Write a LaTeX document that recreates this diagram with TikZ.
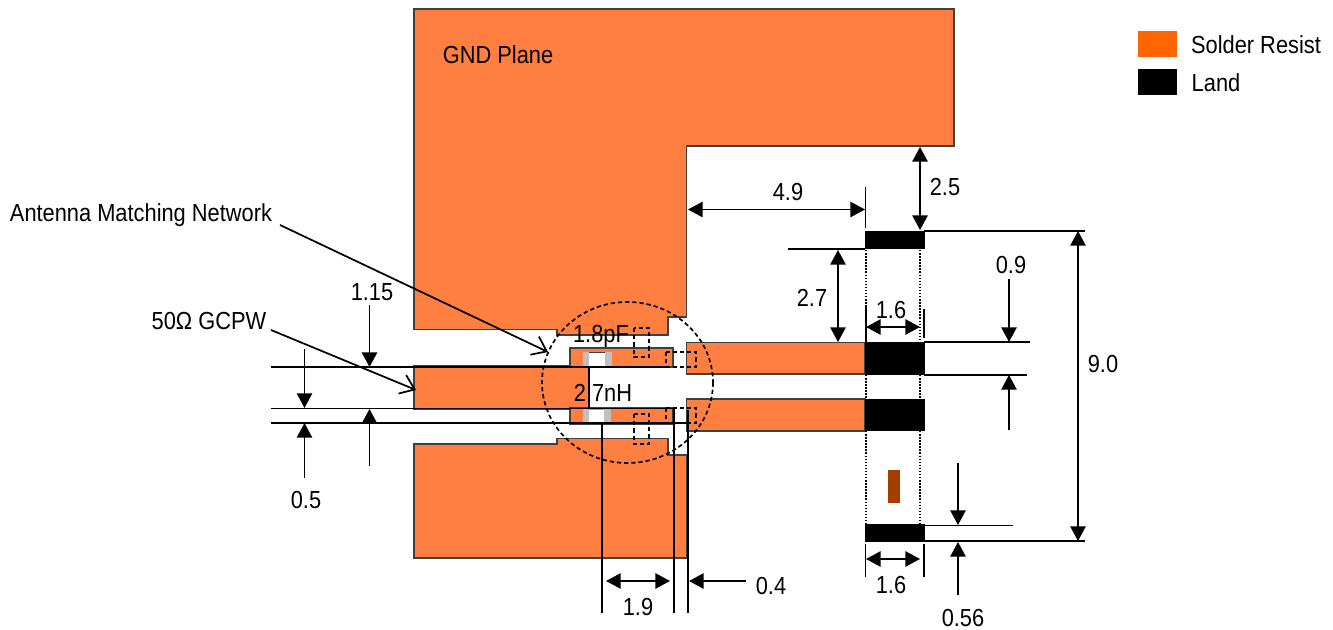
\documentclass[tikz,border=0pt]{standalone}
\usepackage{fontspec}
\setmainfont[FakeStretch=0.885]{Liberation Sans}
\usetikzlibrary{arrows.meta}
\definecolor{sr}{HTML}{FF7F40}
\definecolor{srleg}{HTML}{FF6600}
\definecolor{edge}{HTML}{404040}
\definecolor{brownpad}{HTML}{A33D00}
\definecolor{padgray}{HTML}{C0C0C0}
\tikzset{
  x=0.75pt,y=-0.75pt,
  copper/.style={fill=sr,draw=edge,line width=1pt},
  land/.style={fill=black},
  dashbox/.style={draw=black,line width=1.25pt,dash pattern=on 3.2pt off 2.2pt},
  dotline/.style={draw=black,line width=1.1pt,dash pattern=on 1.1pt off 1.2pt},
  rule/.style={draw=black,line width=1.3pt},
  dim/.style={draw=black,line width=1.3pt,{Triangle[length=11pt,width=11.5pt]}-{Triangle[length=11pt,width=11.5pt]}},
  dimend/.style={draw=black,line width=1.3pt,-{Triangle[length=11pt,width=11.5pt]}},
  callout/.style={draw=black,line width=1.3pt,-{Straight Barb[length=10pt,width=15pt,line width=1.3pt]}},
  lab/.style={inner sep=0pt,font=\fontsize{18.5pt}{21pt}\selectfont,text=black}
}
\begin{document}
\begin{tikzpicture}
\useasboundingbox (0,0) rectangle (1333,630);
% copper
\draw[copper] (414,9) -- (954,9) -- (954,146) -- (686.5,146) -- (686.5,317) -- (668,317) -- (668,335) -- (557,335) -- (557,329.5) -- (414,329.5) -- cycle;
\draw[copper] (414,444) -- (557,444) -- (557,438.5) -- (668,438.5) -- (668,455) -- (687,455) -- (687,558) -- (414,558) -- cycle;
\draw[copper] (414,366) -- (570,366) -- (570,348) -- (673,348) -- (673,367) -- (589,367) -- (589,409) -- (414,409) -- cycle;
\draw[copper] (570,408) rectangle (673,424);
\draw[copper] (686.5,342.5) rectangle (865,374);
\draw[copper] (686.5,399) rectangle (865,431);
% components
\fill[white] (589,352) rectangle (605,367);
\draw[edge,line width=0.7pt] (589,352) -- (605,352);
\fill[white] (589,409.5) rectangle (605,423);
\fill[padgray] (583,352) rectangle (589,367);
\fill[padgray] (605,352) rectangle (612,367);
\fill[padgray] (583,409) rectangle (589,423);
\fill[padgray] (604,409) rectangle (611,423);
% lands
\fill[land] (864.5,231) rectangle (924.5,249);
\fill[land] (864.5,342.5) rectangle (924.5,375);
\fill[land] (864.5,399) rectangle (924.5,431);
\fill[land] (864.5,524) rectangle (924.5,542);
\fill[brownpad] (888,470) rectangle (900,503);
% rules, left
\coordinate (l1a) at (271,367); \coordinate (l1b) at (414,367);
\coordinate (l2a) at (271,408.5); \coordinate (l2b) at (673,408.5);
\coordinate (l3a) at (271,423); \coordinate (l3b) at (688,423);
\draw[rule] (l1a) -- (l1b);
\draw[rule] (414,367) -- (589,367) -- (589,409);
\draw[rule] (l2a) -- (l2b);
\draw[rule] (l3a) -- (l3b);
\draw[rule] (589,367) -- (666,367);
\draw[rule] (602,423) -- (602,613);
\draw[rule] (674,408) -- (674,613);
\draw[rule] (688,410) -- (688,613);
% dashed
\draw[dashbox] (634,328) rectangle (649,357);
\draw[dashbox] (666,352) rectangle (696,367);
\draw[dashbox] (666,408) rectangle (696,423);
\draw[dashbox] (634,414) rectangle (649,444);
\draw[dashbox] (627.5,382.5) ellipse [x radius=85.5,y radius=80.5];
% dotted
\draw[dotline] (866,250) -- (866,342);
\draw[dotline] (920,250) -- (920,342);
\draw[dotline] (866,375) -- (866,399);
\draw[dotline] (920,375) -- (920,399);
\draw[dotline] (866,431) -- (866,524);
\draw[dotline] (920,431) -- (920,524);
% rules, right
\draw[rule] (788,249) -- (865,249);
\draw[rule] (865.5,187) -- (865.5,228);
\draw[rule] (924,231) -- (1085,231);
\draw[rule] (924,342) -- (1030,342);
\draw[rule] (924,375) -- (1027,375);
\draw[rule] (924,525.5) -- (1013,525.5);
\draw[rule] (924,541) -- (1085,541);
\draw[rule] (866,307) -- (866,342);
\draw[rule] (924,309) -- (924,338);
\draw[rule] (865.5,544) -- (865.5,577);
\draw[rule] (924,544) -- (924,577);
% dims
\coordinate (d1a) at (304.5,349); \coordinate (d1b) at (304.5,408);
\draw[dimend] (d1a) -- (d1b);
\coordinate (d2a) at (304.5,478); \coordinate (d2b) at (304.5,423);
\draw[dimend] (d2a) -- (d2b);
\coordinate (d3a) at (369.5,305); \coordinate (d3b) at (369.5,367);
\draw[dimend] (d3a) -- (d3b);
\coordinate (d4a) at (369.5,466); \coordinate (d4b) at (369.5,409);
\draw[dimend] (d4a) -- (d4b);
\coordinate (e1a) at (688,209.5); \coordinate (e1b) at (865,209.5);
\draw[dim] (e1a) -- (e1b);
\coordinate (e2a) at (920,147); \coordinate (e2b) at (920,230);
\draw[dim] (e2a) -- (e2b);
\coordinate (e3a) at (838,250); \coordinate (e3b) at (838,342);
\draw[dim] (e3a) -- (e3b);
\coordinate (e4a) at (1078,231); \coordinate (e4b) at (1078,541);
\draw[dim] (e4a) -- (e4b);
\coordinate (e5a) at (866,327); \coordinate (e5b) at (920,327);
\draw[dim] (e5a) -- (e5b);
\coordinate (e6a) at (866,559); \coordinate (e6b) at (920,559);
\draw[dim] (e6a) -- (e6b);
\coordinate (e7a) at (606,581); \coordinate (e7b) at (670,581);
\draw[dim] (e7a) -- (e7b);
\coordinate (f1a) at (746,581); \coordinate (f1b) at (689,581);
\draw[dimend] (f1a) -- (f1b);
\coordinate (f2a) at (1009,279); \coordinate (f2b) at (1009,342);
\draw[dimend] (f2a) -- (f2b);
\coordinate (f3a) at (1009,430); \coordinate (f3b) at (1009,375);
\draw[dimend] (f3a) -- (f3b);
\coordinate (f4a) at (958,463); \coordinate (f4b) at (958,525);
\draw[dimend] (f4a) -- (f4b);
\coordinate (f5a) at (958,595); \coordinate (f5b) at (958,542);
\draw[dimend] (f5a) -- (f5b);
% callouts
\coordinate (c1a) at (271,330); \coordinate (c1b) at (416,390);
\draw[callout] (c1a) -- (c1b);
\coordinate (c2a) at (280,225); \coordinate (c2b) at (548,352);
\draw[callout] (c2a) -- (c2b);
% legend
\fill[srleg] (1138,31) rectangle (1177,57);
\fill[black] (1138,69) rectangle (1177,95);
% labels
\node[lab] (gnd) at (498,55) {GND Plane};
\node[lab] (sr) at (1256,45) {Solder Resist};
\node[lab] (ld) at (1216,83) {Land};
\node[lab] (amn) at (141,215) {Antenna Matching Network};
\node[lab] (gcpw) at (209,321) {50Ω GCPW};
\node[lab] (t115) at (372,292) {1.15};
\node[lab] (t05) at (306,500) {0.5};
\node[lab] (t18) at (601,336) {1.8pF};
\node[lab] (t27) at (603,393) {2.7nH};
\node[lab] (t49) at (788,192) {4.9};
\node[lab] (t25) at (945,187) {2.5};
\node[lab] (t27b) at (812,298) {2.7};
\node[lab] (t16a) at (891,310) {1.6};
\node[lab] (t09) at (1011,265) {0.9};
\node[lab] (t90) at (1103,364) {9.0};
\node[lab] (t16b) at (891,585) {1.6};
\node[lab] (t19) at (638,607) {1.9};
\node[lab] (t04) at (771,586) {0.4};
\node[lab] (t056) at (963,618) {0.56};
\end{tikzpicture}
\end{document}
